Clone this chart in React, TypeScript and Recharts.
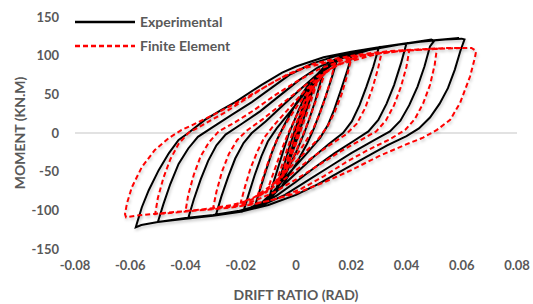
import React from "react";
import { LineChart, Line, XAxis, YAxis, ReferenceLine } from "recharts";

// drift ratio (rad), moment (kN.m)
const EXP_C1 = [[0, 0], [0.0025, 30], [0.005, 55], [0.0035, 38], [0.0015, 15], [0, -5], [-0.0025, -35], [-0.005, -60], [-0.0035, -44], [-0.0015, -20], [0, -2], [0.002, 22]];
const EXP_C2 = [[0.0075, 72], [0.0058, 52], [0.004, 32], [0.002, 10], [0, -12], [-0.003, -42], [-0.0055, -62], [-0.0075, -76], [-0.006, -60], [-0.004, -38], [-0.002, -14], [0, 8], [0.003, 38], [0.0055, 60]];
const EXP_C3 = [[0.0105, 85], [0.0088, 65], [0.007, 42], [0.005, 20], [0.003, 0], [0, -25], [-0.004, -55], [-0.0075, -76], [-0.01, -88], [-0.0085, -68], [-0.0065, -45], [-0.0045, -22], [-0.0025, 0], [0.001, 30], [0.005, 60], [0.009, 80]];
const EXP_C4 = [[0.015, 96], [0.013, 72], [0.0108, 48], [0.0085, 25], [0.0065, 6], [0.004, -14], [0, -40], [-0.005, -68], [-0.01, -87], [-0.015, -96], [-0.0132, -75], [-0.011, -50], [-0.0088, -26], [-0.0068, -8], [-0.004, 12], [0, 38], [0.005, 65], [0.01, 85]];
const EXP_C5 = [[0.0205, 104], [0.0185, 80], [0.0162, 55], [0.0138, 30], [0.0115, 10], [0.0088, -6], [0.004, -26], [-0.002, -50], [-0.008, -75], [-0.013, -92], [-0.019, -101], [-0.0172, -80], [-0.015, -55], [-0.0125, -30], [-0.0102, -11], [-0.007, 6], [-0.002, 28], [0.004, 55], [0.01, 80], [0.016, 96]];
const EXP_C6 = [[0.03, 111], [0.028, 86], [0.0255, 60], [0.023, 36], [0.0202, 15], [0.017, 0], [0.012, -14], [0.006, -32], [0, -52], [-0.006, -72], [-0.012, -89], [-0.018, -99], [-0.024, -103], [-0.029, -106], [-0.027, -82], [-0.0245, -56], [-0.022, -33], [-0.019, -13], [-0.016, 0], [-0.011, 15], [-0.005, 35], [0.002, 58], [0.009, 80], [0.016, 96], [0.023, 105]];
const EXP_C7 = [[0.04, 116], [0.038, 90], [0.0355, 62], [0.0328, 38], [0.0298, 17], [0.0262, 2], [0.021, -10], [0.014, -26], [0.007, -44], [0, -63], [-0.007, -81], [-0.014, -94], [-0.021, -101], [-0.03, -106], [-0.039, -110], [-0.037, -86], [-0.0345, -60], [-0.0318, -36], [-0.0288, -16], [-0.0255, -2], [-0.02, 11], [-0.013, 28], [-0.006, 48], [0.001, 68], [0.008, 85], [0.016, 98], [0.025, 107], [0.034, 113], [0.042, 117]];
const EXP_C8 = [[0.049, 121], [0.05, 119], [0.0485, 112], [0.0465, 86], [0.044, 60], [0.041, 36], [0.0378, 16], [0.034, 2], [0.028, -10], [0.02, -26], [0.012, -44], [0.004, -62], [-0.004, -80], [-0.012, -93], [-0.02, -101], [-0.03, -106], [-0.04, -110], [-0.05, -115], [-0.048, -92], [-0.0455, -66], [-0.0425, -40], [-0.039, -20], [-0.0355, -5], [-0.03, 8], [-0.023, 24], [-0.016, 40], [-0.009, 58], [-0.002, 76], [0.006, 90], [0.015, 100], [0.025, 108], [0.035, 113], [0.045, 118], [0.054, 121]];
const EXP_C9 = [[0.06, 122], [0.061, 121], [0.0595, 106], [0.0575, 82], [0.055, 58], [0.052, 38], [0.0485, 20], [0.0445, 6], [0.04, -4], [0.033, -16], [0.025, -32], [0.016, -50], [0.008, -66], [0, -80], [-0.01, -93], [-0.02, -102], [-0.03, -107], [-0.04, -111], [-0.05, -115], [-0.056, -119], [-0.058, -122], [-0.0576, -117], [-0.0558, -96], [-0.0533, -74], [-0.0497, -48], [-0.046, -26], [-0.0425, -9], [-0.039, 0], [-0.033, 17], [-0.027, 30], [-0.022, 40], [-0.0126, 62], [-0.005, 78], [0, 86], [0.01, 98], [0.02, 105], [0.03, 111], [0.04, 116], [0.05, 120], [0.059, 123]];

const FE_C1 = [[0, 0], [0.0025, 25], [0.005, 48], [0.0035, 32], [0.0015, 10], [0, -8], [-0.0025, -32], [-0.005, -52], [-0.0035, -36], [-0.0015, -14], [0, 2], [0.0025, 28]];
const FE_C2 = [[0.0075, 64], [0.006, 48], [0.004, 26], [0.002, 6], [0, -14], [-0.003, -40], [-0.0055, -58], [-0.0075, -66], [-0.006, -52], [-0.004, -30], [-0.002, -8], [0, 12], [0.003, 38], [0.0055, 56]];
const FE_C3 = [[0.0105, 78], [0.009, 62], [0.007, 40], [0.0048, 18], [0.0028, 0], [0, -24], [-0.004, -52], [-0.0075, -68], [-0.0105, -76], [-0.009, -60], [-0.007, -40], [-0.0048, -18], [-0.0028, 0], [0.001, 28], [0.005, 54], [0.009, 72]];
const FE_C4 = [[0.014, 88], [0.0125, 68], [0.0105, 44], [0.0083, 22], [0.006, 4], [0.003, -14], [-0.002, -40], [-0.007, -62], [-0.011, -76], [-0.014, -83], [-0.0125, -64], [-0.0105, -42], [-0.0083, -20], [-0.006, -2], [-0.003, 16], [0.001, 38], [0.006, 62], [0.011, 80]];
const FE_C5 = [[0.02, 96], [0.0185, 74], [0.0165, 50], [0.014, 27], [0.0115, 9], [0.008, -8], [0.003, -26], [-0.003, -48], [-0.009, -68], [-0.015, -83], [-0.02, -90], [-0.0185, -70], [-0.0165, -46], [-0.014, -24], [-0.0115, -6], [-0.008, 10], [-0.003, 30], [0.003, 54], [0.009, 74], [0.015, 88]];
const FE_C6 = [[0.031, 104], [0.0296, 82], [0.0275, 56], [0.025, 32], [0.022, 12], [0.018, -2], [0.012, -16], [0.005, -34], [-0.002, -54], [-0.009, -72], [-0.016, -86], [-0.023, -93], [-0.03, -97], [-0.0288, -76], [-0.0268, -50], [-0.0243, -27], [-0.0213, -9], [-0.0175, 4], [-0.012, 18], [-0.005, 38], [0.002, 58], [0.009, 76], [0.016, 90], [0.024, 100]];
const FE_C7 = [[0.041, 107], [0.04, 86], [0.038, 60], [0.0355, 36], [0.0325, 16], [0.029, 2], [0.023, -10], [0.016, -24], [0.008, -42], [0, -60], [-0.008, -77], [-0.016, -89], [-0.024, -95], [-0.032, -98], [-0.04, -101], [-0.039, -80], [-0.037, -54], [-0.0345, -30], [-0.0315, -12], [-0.028, 2], [-0.022, 14], [-0.015, 30], [-0.008, 48], [0, 66], [0.008, 82], [0.016, 93], [0.025, 101], [0.034, 105]];
const FE_C8 = [[0.051, 109], [0.0502, 88], [0.0485, 62], [0.046, 38], [0.043, 18], [0.0395, 4], [0.034, -8], [0.026, -22], [0.018, -38], [0.01, -56], [0.002, -72], [-0.006, -84], [-0.015, -92], [-0.025, -97], [-0.035, -100], [-0.044, -103], [-0.051, -105], [-0.05, -84], [-0.048, -58], [-0.0455, -34], [-0.0425, -14], [-0.039, 0], [-0.033, 12], [-0.026, 26], [-0.019, 42], [-0.011, 60], [-0.003, 76], [0.005, 88], [0.014, 96], [0.024, 102], [0.034, 106], [0.044, 108], [0.055, 110]];
const FE_C9 = [[0.0635, 110], [0.0652, 106], [0.0648, 98], [0.063, 73], [0.0594, 39], [0.0558, 17], [0.051, 4], [0.046, -6], [0.039, -16], [0.03, -30], [0.02, -48], [0.01, -64], [0, -78], [-0.01, -88], [-0.02, -94], [-0.03, -98], [-0.04, -101], [-0.05, -104], [-0.058, -107], [-0.0615, -109], [-0.0619, -105], [-0.0612, -91], [-0.0594, -70], [-0.0558, -44], [-0.0511, -22], [-0.046, -6.5], [-0.0414, 4], [-0.0353, 14], [-0.028, 27], [-0.021, 40], [-0.013, 56], [-0.005, 72], [0.003, 84], [0.012, 92], [0.022, 100], [0.032, 104], [0.042, 107], [0.052, 109], [0.062, 110]];

const X_TICKS = [-0.08, -0.06, -0.04, -0.02, 0, 0.02, 0.04, 0.06, 0.08];
const Y_TICKS = [-150, -100, -50, 0, 50, 100, 150];

const toPts = (cycles: number[][][]) => cycles.flat().map(([x, y]) => ({ x, y }));
const expData = toPts([EXP_C1, EXP_C2, EXP_C3, EXP_C4, EXP_C5, EXP_C6, EXP_C7, EXP_C8, EXP_C9]);
const feData = toPts([FE_C1, FE_C2, FE_C3, FE_C4, FE_C5, FE_C6, FE_C7, FE_C8, FE_C9]);

const FONT = "Lato, 'Open Sans', sans-serif";
const GREY = "#595959";
const tickStyle = { fontFamily: FONT, fontSize: 13, fontWeight: 700, fill: GREY };
const titleStyle = { fontFamily: FONT, fontSize: 14, fontWeight: 700, fill: GREY };
const shadow = { filter: "drop-shadow(1px 2px 1.5px rgba(0,0,0,0.22))" };

// drawn on top of the plot, Excel style, so it doesn't eat chart space
function LegendBox() {
  return (
    <svg width={190} height={48} style={{ position: "absolute", left: 75, top: 10 }}>
      <line x1={0} y1={12} x2={60} y2={12} stroke="#000" strokeWidth={2.5} />
      <text x={65} y={12} dy="0.35em" style={titleStyle}>Experimental</text>
      <line x1={0} y1={36} x2={60} y2={36} stroke="#ff0000" strokeWidth={2.5} strokeDasharray="5 3" />
      <text x={65} y={36} dy="0.35em" style={titleStyle}>Finite Element</text>
    </svg>
  );
}

export default function App() {
  return (
    <div style={{ position: "absolute", left: 0, top: 0, width: 533, height: 304, background: "#fff" }}>
      <LineChart width={533} height={304} margin={{ top: 17, right: 16, bottom: 25, left: 15 }}>
        <XAxis
          type="number"
          dataKey="x"
          domain={[-0.08, 0.08]}
          ticks={X_TICKS}
          tickFormatter={(v: number) => String(v)}
          axisLine={false}
          tickLine={false}
          tickSize={0}
          tickMargin={12}
          height={30}
          tick={tickStyle}
          allowDataOverflow
          label={{
            content: () => (
              <text x={296} y={295} dy="0.35em" textAnchor="middle" style={titleStyle}>
                DRIFT RATIO (RAD)
              </text>
            ),
          }}
        />
        <YAxis
          type="number"
          domain={[-150, 150]}
          ticks={Y_TICKS}
          axisLine={false}
          tickLine={false}
          tickSize={0}
          tickMargin={16}
          width={60}
          tick={tickStyle}
          allowDataOverflow
          label={{
            content: () => (
              <text x={20} y={133} dy="0.35em" textAnchor="middle" transform="rotate(-90 20 133)" style={titleStyle}>
                MOMENT (KN.M)
              </text>
            ),
          }}
        />
        <ReferenceLine y={0} stroke="#d9d9d9" strokeWidth={1.5} />
        <Line
          data={expData}
          dataKey="y"
          type="linear"
          stroke="#000"
          strokeWidth={2}
          dot={false}
          style={shadow}
          isAnimationActive={false}
        />
        <Line
          data={feData}
          dataKey="y"
          type="linear"
          stroke="#ff0000"
          strokeWidth={2}
          strokeDasharray="5 3"
          dot={false}
          style={shadow}
          isAnimationActive={false}
        />
      </LineChart>
      <LegendBox />
    </div>
  );
}
